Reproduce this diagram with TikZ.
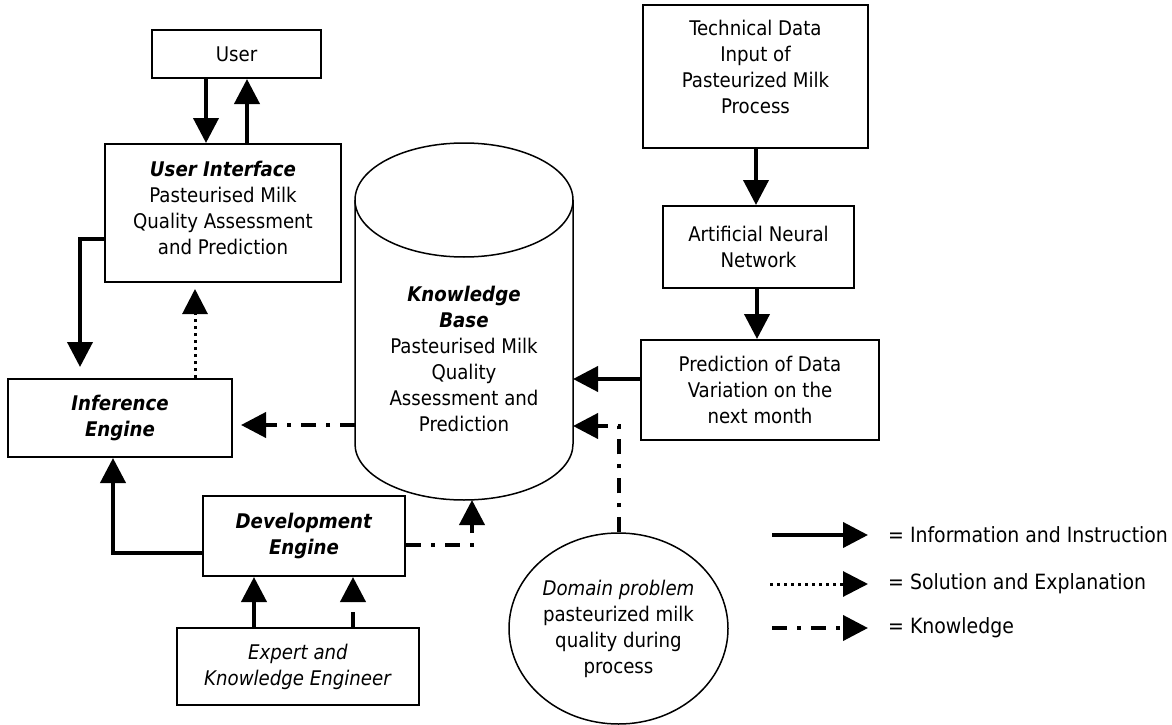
\documentclass[tikz,border=0pt]{standalone}
\usepackage{fontspec}
\setmainfont{DejaVu Sans Condensed}
\usetikzlibrary{arrows.meta,shapes.geometric}
\begin{document}
\begin{tikzpicture}[x=1pt,y=-1pt,
  txt/.style={align=center, font=\fontsize{20.2}{26}\selectfont, inner sep=0pt},
  box/.style={txt, draw, line width=2pt},
  tip/.style={-{Triangle[width=25pt,length=25pt]}},
  info/.style={tip, line width=4pt},
  sol/.style={tip, line width=3pt, dash pattern=on 3pt off 4pt},
  know/.style={tip, line width=4pt, dash pattern=on 15pt off 10pt on 4pt off 10pt},
]
\useasboundingbox (0,0) rectangle (1172,725);

% boxes
\node[box, minimum width=169pt, minimum height=48pt] (user) at (236.5,54) {User};
\node[box, minimum width=236pt, minimum height=138pt] (ui) at (223,213) {};
\node[txt] (uitext) at (223,208) {\textbf{\textit{User Interface}}\\Pasteurised Milk\\Quality Assessment\\and Prediction};
\node[box, minimum width=224pt, minimum height=78pt] (inf) at (120,418) {\textbf{\textit{Inference}}\\\textbf{\textit{Engine}}};
\node[box, minimum width=202pt, minimum height=80pt] (dev) at (304,536) {\textbf{\textit{Development}}\\\textbf{\textit{Engine}}};
\node[box, minimum width=242pt, minimum height=77pt] (exp) at (298,666.5) {\textit{Expert and}\\\textit{Knowledge Engineer}};
\node[box, minimum width=225pt, minimum height=143pt] (tech) at (755.5,76.5) {};
\node[txt] (techtext) at (755.5,67) {Technical Data\\Input of\\Pasteurized Milk\\Process};
\node[box, minimum width=191pt, minimum height=82pt] (ann) at (758.5,247) {Artificial Neural\\Network};
\node[box, minimum width=238pt, minimum height=100pt] (pred) at (760,390) {Prediction of Data\\Variation on the\\next month};
\node[txt, draw, line width=1.5pt, ellipse, minimum width=219pt, minimum height=191pt] (dom) at (618.5,628.5) {\textit{Domain problem}\\pasteurized milk\\quality during\\process};

% knowledge base cylinder
\draw[line width=1.5pt] (355,200) -- (355,444) arc[start angle=180, end angle=360, x radius=109pt, y radius=56pt] -- (573,200);
\draw[line width=1.5pt] (464,200) ellipse [x radius=109pt, y radius=57pt];
\node[txt] (kbtext) at (464,359) {\textbf{\textit{Knowledge}}\\\textbf{\textit{Base}}\\Pasteurised Milk\\Quality\\Assessment and\\Prediction};
\coordinate (kbL) at (355,425);
\coordinate (kbB) at (472,500);
\coordinate (kbR1) at (573,379);
\coordinate (kbR2) at (573,426);

% connectors
\draw[info] (user.south -| 206,0) -- (ui.north -| 206,0);
\draw[info] (ui.north -| 247,0) -- (user.south -| 247,0);
\draw[info, shorten >=11pt] (ui.west |- 0,239) -| (inf.north -| 80,0);
\draw[sol, shorten >=6pt] (inf.north -| 195,0) -- (ui.south -| 195,0);
\draw[know, shorten >=8pt] (kbL) -- (inf.east |- kbL);
\draw[info] (dev.west |- 0,553) -| (inf.south -| 113,0);
\draw[info] (exp.north -| 254,0) -- (dev.south -| 254,0);
\draw[know] (exp.north -| 353,0) -- (dev.south -| 353,0);
\draw[know] (dev.east |- 0,545) -| (kbB);
\draw[know] (dom.north) |- (kbR2);
\draw[info] (pred.west |- kbR1) -- (kbR1);
\draw[info] (tech.south -| 756,0) -- (ann.north -| 756,0);
\draw[info] (ann.south -| 757,0) -- (pred.north -| 757,0);

% legend
\coordinate (l1a) at (772,535); \coordinate (l1b) at (868,535);
\coordinate (l2a) at (770,584); \coordinate (l2b) at (868,584);
\coordinate (l3a) at (772,628); \coordinate (l3b) at (868,628);
\draw[info] (l1a) -- (l1b);
\draw[sol] (l2a) -- (l2b);
\draw[know] (l3a) -- (l3b);
\node[txt, anchor=west, font=\fontsize{21}{26}\selectfont] (lt1) at (888,535) {= Information and Instruction};
\node[txt, anchor=west, font=\fontsize{21}{26}\selectfont] (lt2) at (888,584) {= Solution and Explanation};
\node[txt, anchor=west, font=\fontsize{21}{26}\selectfont] (lt3) at (888,628) {= Knowledge};
\end{tikzpicture}
\end{document}
